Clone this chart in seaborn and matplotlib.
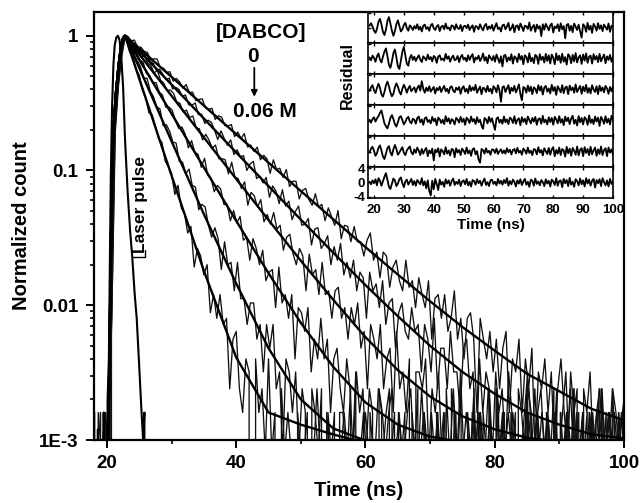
import numpy as np
import matplotlib
matplotlib.use("Agg")
import matplotlib.pyplot as plt
import seaborn as sns

sns.set_theme(style="ticks")
plt.rcParams['font.family'] = ['Liberation Sans', 'DejaVu Sans']
plt.rcParams['font.weight'] = 'bold'
plt.rcParams['axes.labelweight'] = 'bold'
for key in ['text.color', 'axes.labelcolor', 'xtick.color', 'ytick.color', 'axes.edgecolor']:
    plt.rcParams[key] = 'black'

# ---------------- data ----------------
peak_counts = 1250          # counts at the normalised maximum
t_step = 0.5                # channel spacing of the decay traces (ns)
t_start = [18.0, 18.2, 18.1, 18.3, 18.15, 18.25]

counts_A = [1, 0, 2, 0, 1,
            13, 246, 541, 872, 1187,
            1179, 955, 861, 704, 637, 492, 432, 334, 324, 267,
            214, 203, 147, 134, 119, 83, 97, 66, 60, 43,
            48, 24, 33, 29, 21, 25, 11, 15, 10, 15,
            9, 10, 3, 7, 8, 3, 2, 5, 4, 0,
            5, 2, 3, 1, 5, 1, 2, 0, 3, 1,
            2, 1, 0, 2, 1,
            1, 2, 0, 1, 3, 1, 0, 2, 1, 1, 0, 2, 2, 1, 0, 1, 4, 0, 1, 2,
            1, 0, 1, 3, 2, 0, 1, 1, 2, 0, 0, 1, 2, 3, 1, 0, 1, 2, 1, 1,
            0, 2, 1, 0, 3, 1, 1, 2, 0, 1, 1, 0, 2, 1, 2, 0, 1, 3, 1, 0,
            1, 1, 2, 0, 2, 1, 0, 1, 1, 3, 0, 1, 2, 1, 0, 2, 1, 1, 0, 1,
            2, 4, 1, 0, 1, 2, 0, 1, 1, 2, 1, 0, 3, 1, 1, 0, 2, 1, 0, 1, 2, 1]
counts_B = [0, 1, 1, 2, 0,
            11, 257, 522, 893, 1211,
            1172, 1088, 899, 817, 737, 603, 605, 487, 441, 370,
            359, 268, 273, 245, 203, 200, 146, 144, 118, 128,
            97, 94, 64, 70, 67, 49, 40, 47, 39, 23,
            37, 25, 26, 16, 26, 14, 14, 9, 13, 13,
            7, 9, 4, 9, 6, 9, 3, 4, 1, 5,
            4, 2, 4, 1, 3, 2, 0, 3, 2, 1,
            3, 0, 2, 1, 2,
            0, 1, 2, 1, 3, 0, 1, 1, 2, 0, 2, 1, 0, 1, 1, 2, 3, 0, 1, 2,
            1, 0, 0, 2, 1, 1, 3, 1, 0, 2, 1, 2, 0, 1, 1, 0, 2, 1, 4, 1,
            0, 1, 2, 1, 0, 2, 1, 1, 0, 3, 1, 2, 0, 1, 1, 2, 0, 1, 0, 2,
            1, 3, 1, 0, 1, 2, 1, 1, 0, 2, 0, 1, 3, 1, 2, 0, 1, 1, 2, 1,
            0, 2, 1, 0, 1, 3, 1, 2, 0, 1, 1, 2]
counts_C = [2, 0, 1, 1, 0,
            12, 251, 533, 869, 1195,
            1240, 1035, 1017, 934, 823, 795, 659, 635, 561, 561,
            476, 454, 369, 370, 350, 292, 257, 263, 233, 184,
            208, 170, 165, 132, 154, 115, 110, 87, 97, 91,
            70, 70, 53, 63, 51, 57, 38, 40, 27, 39,
            33, 25, 32, 19, 22, 23, 12, 24, 13, 15,
            10, 15, 5, 12, 11, 8, 12, 4, 7, 5,
            10, 5, 7, 2, 5, 6, 3, 2, 5, 3,
            1, 4, 2, 3, 1, 3, 2, 0, 3, 2,
            1, 2, 3, 0, 2,
            1, 2, 0, 1, 1, 3, 0, 2, 1, 1, 0, 2, 1, 2, 0, 1, 3, 1, 0, 1,
            2, 1, 1, 0, 2, 1, 0, 3, 1, 1, 2, 0, 1, 2, 1, 0, 1, 1, 2, 4,
            0, 1, 2, 1, 0, 2, 1, 1, 3, 0, 1, 2, 1, 0, 1, 1, 2, 0, 2, 1,
            1, 0, 3, 1, 2, 1, 0, 1, 2, 1, 0, 2]
counts_D = [1, 1, 0, 2, 1,
            14, 243, 538, 884, 1203,
            1198, 1097, 1079, 990, 862, 891, 786, 753, 662, 690,
            585, 556, 489, 495, 468, 404, 394, 340, 351, 309,
            317, 259, 255, 211, 232, 210, 183, 193, 153, 153,
            150, 118, 144, 111, 109, 92, 103, 69, 86, 81,
            67, 76, 52, 59, 50, 61, 46, 49, 32, 40,
            42, 30, 25, 33, 29, 16, 30, 21, 23, 15,
            26, 15, 16, 10, 16, 17, 10, 12, 7, 12,
            9, 13, 6, 8, 3, 9, 7, 5, 9, 3,
            5, 6, 2, 8, 3, 4, 2, 5, 0, 4,
            4, 3, 5, 1, 3, 2, 4, 1, 2, 0,
            3, 2, 1, 3, 0,
            2, 1, 3, 0, 2, 1, 1, 2, 0, 3, 1, 2, 0, 1, 2, 1, 1, 0, 2, 3,
            1, 0, 1, 2, 1, 1, 0, 2, 1, 0, 1, 2, 1, 3, 0, 1, 1, 2, 0, 1,
            2, 1, 0, 1, 2, 1, 1, 0, 2, 1, 0, 2]
counts_E = [0, 2, 1, 0, 1,
            12, 255, 527, 878, 1199,
            1246, 1101, 1094, 1061, 956, 886, 911, 807, 781, 691,
            705, 647, 591, 606, 504, 517, 499, 443, 454, 384,
            381, 396, 325, 327, 279, 295, 285, 249, 212, 246,
            216, 192, 211, 164, 178, 158, 161, 125, 140, 146,
            109, 113, 101, 111, 79, 96, 88, 71, 90, 68,
            74, 54, 62, 68, 49, 50, 55, 35, 46, 47,
            33, 36, 41, 25, 34, 27, 36, 21, 26, 20,
            27, 16, 22, 20, 10, 22, 16, 18, 12, 19,
            9, 13, 14, 6, 11, 13, 8, 7, 12, 8,
            9, 4, 9, 7, 4, 10, 3, 6, 6, 3,
            8, 4, 4, 2, 6, 7, 3, 4, 1, 5,
            2, 4, 3, 1, 4, 2, 3, 1, 4, 2,
            0, 3, 2, 1, 3, 2, 0, 2, 3, 1,
            2, 1, 3, 0, 2,
            1, 2, 0, 3, 1, 1, 2, 0, 1, 2, 1, 3, 0, 1, 2, 1, 0, 2, 1, 1, 2, 0]
counts_F = [1, 0, 0, 1, 2,
            10, 248, 535, 890, 1206,
            1233, 1146, 1161, 1022, 1030, 957, 941, 829, 842, 840,
            726, 718, 668, 676, 575, 603, 567, 510, 543, 474,
            477, 413, 421, 425, 364, 356, 362, 299, 318, 311,
            269, 268, 274, 223, 241, 216, 235, 187, 193, 173,
            186, 150, 162, 153, 119, 150, 127, 130, 111, 127,
            95, 104, 104, 77, 89, 92, 76, 69, 84, 67,
            70, 53, 66, 57, 49, 63, 39, 49, 48, 37,
            48, 37, 37, 29, 38, 43, 27, 31, 20, 31,
            29, 17, 24, 27, 19, 16, 27, 17, 19, 12,
            20, 15, 12, 19, 7, 14, 15, 10, 15, 8,
            10, 16, 7, 10, 5, 10, 11, 7, 2, 10,
            7, 5, 8, 4, 7, 3, 6, 8, 2, 5,
            4, 7, 2, 5, 3, 6, 1, 4, 3, 5,
            2, 4, 1, 3, 5, 2, 1, 4, 2, 3,
            0, 3, 2, 4, 1, 2, 3, 1, 2, 0,
            3, 2, 1, 2, 3]
decay_counts = [counts_A, counts_B, counts_C, counts_D, counts_E, counts_F]

# fitted curves (normalised count) at these times
fit_t = [18.0, 20.2, 20.5, 20.75, 21.0, 21.4, 21.8, 22.2, 22.5, 22.8,
         23.5, 25, 27.5, 30, 35, 40, 45, 50, 55, 60, 65, 70, 75, 80, 85, 90, 95, 100]
fit_rise = [0.0009, 0.0009, 0.01, 0.08, 0.2, 0.38, 0.6, 0.85, 0.96, 1.0]
fit_A = fit_rise + [0.792, 0.480, 0.209, 0.0916, 0.018, 0.0041, 0.0016, 0.0013, 0.0011,
                    0.00095, 0.0009, 0.0009, 0.0009, 0.0009, 0.0009, 0.0009, 0.0009, 0.0009]
fit_B = fit_rise + [0.839, 0.577, 0.309, 0.165, 0.0474, 0.0145, 0.0048, 0.0020, 0.00122,
                    0.00099, 0.00093, 0.0009, 0.0009, 0.0009, 0.0009, 0.0009, 0.0009, 0.0009]
fit_C = fit_rise + [0.878, 0.665, 0.419, 0.264, 0.1053, 0.0423, 0.0173, 0.0074, 0.0035,
                    0.0019, 0.0013, 0.00106, 0.00096, 0.00093, 0.0009, 0.0009, 0.0009, 0.0009]
fit_D = fit_rise + [0.905, 0.730, 0.511, 0.358, 0.176, 0.0866, 0.0429, 0.0214, 0.0110,
                    0.0058, 0.0033, 0.0021, 0.0015, 0.0012, 0.00104, 0.00097, 0.00093, 0.00092]
fit_E = fit_rise + [0.922, 0.774, 0.579, 0.434, 0.243, 0.136, 0.0766, 0.0432, 0.0246,
                    0.0141, 0.0083, 0.0050, 0.0032, 0.0022, 0.0016, 0.0013, 0.0011, 0.00103]
fit_F = fit_rise + [0.934, 0.806, 0.631, 0.495, 0.303, 0.186, 0.1144, 0.0704, 0.0435,
                    0.0270, 0.0169, 0.0107, 0.0069, 0.0046, 0.0031, 0.0023, 0.0017, 0.0014]
fits = [fit_A, fit_B, fit_C, fit_D, fit_E, fit_F]

# instrument response (laser pulse)
laser_t = [18.0, 18.3, 18.6, 18.9, 19.2, 19.5, 19.8, 20.1, 20.3, 20.45, 20.6, 20.8, 21.0,
           21.2, 21.45, 21.7, 21.95, 22.2, 22.5, 22.8, 23.2, 23.6, 23.9, 24.3, 24.6, 25.0,
           25.3, 25.6, 25.8, 26.0, 26.3]
laser_v = [0.0016, 0, 0.0012, 0, 0, 0.0016, 0, 0.002, 0.004, 0.02, 0.09, 0.3, 0.6,
           0.85, 0.97, 1.0, 0.93, 0.72, 0.42, 0.17, 0.07, 0.035, 0.0235, 0.012, 0.0081, 0.0035,
           0.0018, 0.001, 0.0016, 0, 0]

# weighted residuals (inset), 0.5 ns spacing from 18.5 ns
res_start = 18.5
res_1 = [0.5, 1.2, 0.3, -0.8, -1.5, -0.4, 1.6, 2.4, 0.8, -1.2, -2.1, -0.6, 1.8, 2.9, 1.1, -0.9, -2.3, -1.0, 0.9, 2.0,
         0.4, -1.1, -0.5, 0.7, 1.3, -0.2, -0.9, 0.6, 0.1, -0.7,
         0.4, -0.3, 0.9, -0.6, 0.2, -1.1, 0.5, 0.8, -0.4, 0.1, -0.9, 0.6, 1.0, -0.2, -0.7, 0.3, 0.7, -1.0, 0.2, 0.5,
         -0.5, 1.1, -0.3, 0.0, -0.8, 0.6, 0.4, -0.6, 0.9, -0.2,
         -0.4, 0.7, -1.0, 0.3, 0.5, -0.2, 0.8, -0.7, 0.1, 0.6, -1.2, 0.4, 0.2, -0.5, 0.9, -0.1, -0.8, 0.5, 1.0, -0.6,
         0.3, -0.3, 0.7, -0.9, 0.2, 1.2, -0.4, 0.0, -1.1, 0.6,
         0.8, -0.5, 0.3, 1.3, -0.8, -0.2, 0.9, -1.3, 0.4, 0.6, -0.7, 1.1, 0.2, -1.0, 0.5, 0.3, -0.4, 1.4, -0.9, 0.1,
         0.7, -1.2, 0.8, -0.3, 0.4, -2.4, 0.9, -0.6, 1.0, 0.2,
         -0.8, 0.6, 1.1, -1.4, 0.3, -0.2, 0.9, -1.0, 1.2, -0.5, 0.4, -3.0, 0.7, 1.0, -0.9, 0.5, -1.3, 1.1, 0.2, -0.7,
         0.8, -1.1, -2.8, 0.9, 0.4, -1.2, 1.3, -0.6, 0.5, -1.5, 1.0, 0.3, -0.9, 1.2, -0.4, 0.6, -1.0, 0.8, 0.1, -0.6,
         1.1, -1.2, 0.5, 0.3]
res_2 = [0.3, -0.5, 0.8, 0.2, -0.9, 0.6, 1.4, -0.3, -1.1, 0.5, 1.9, 2.8, 0.7, -1.8, -2.6, -0.8, 1.5, 2.5, 0.3, -2.2,
         -2.9, -0.6, 1.9, 3.2, 0.9, -1.5, -2.0, 0.2, 1.0, -0.4,
         0.5, -0.7, 0.2, 0.9, -0.3, -1.0, 0.6, 0.1, -0.5, 1.1, -0.2, 0.4, -0.8, 0.7, 0.3, -1.2, 0.5, 0.9, -0.4, 0.0,
         -0.6, 1.3, -0.1, 0.6, -0.9, 0.2, 0.8, -0.5, -0.2, 0.7,
         -1.0, 0.4, 1.0, -0.3, 0.2, -0.8, 0.9, -0.4, 0.6, 1.2, -1.1, 0.3, -0.2, 0.8, -0.7, 0.1, 1.4, -0.6, 0.4, -1.3,
         0.9, 0.2, -0.5, 0.7, -0.9, 1.1, 0.0, -1.2, 0.6, -2.2,
         0.8, 1.0, -0.9, 0.3, -0.5, 1.2, -1.4, 0.6, 0.2, -1.0, 1.3, -0.3, 0.7, -1.6, 0.9, 0.4, -1.1, 1.5, -0.8, 0.2,
         -1.3, 1.0, 0.6, -1.5, 1.2, -0.4, 0.5, -1.1, 1.3, -0.7,
         0.9, -1.4, 1.1, 0.2, -1.6, 1.4, -0.5, 0.8, -1.2, 1.3, -0.9, 0.4, -1.7, 1.2, 0.6, -1.3, 1.0, -0.8, 1.5, -1.1,
         0.3, 0.9, -1.5, 1.1, -0.6, 1.4, -1.2, 0.5, 0.8, -1.4, 1.2, -0.3, 0.7, -1.0, 1.3, -0.8, 0.2, 1.1, -1.3, 0.6,
         -0.4, 1.0, -0.9, 0.5]
res_3 = [-0.4, 0.6, 1.2, -0.2, -1.0, 0.4, 1.6, 0.5, -1.3, -2.0, -0.7, 1.1, 2.2, 0.9, -0.8, -1.9, -1.2, 0.6, 1.7, 0.8,
         -0.6, -1.4, 0.2, 1.3, 0.4, -0.9, 0.3, 1.0, -0.5, 0.1,
         0.6, -0.8, 0.4, 1.1, -0.3, 2.3, 0.2, -0.9, 0.5, -0.4, 0.9, -0.6, 0.1, 0.7, -1.1, 0.4, -0.2, 0.8, -0.7, 0.3,
         1.0, -0.5, 0.2, -1.0, 0.6, 0.9, -0.3, -0.8, 0.5, -0.1,
         0.7, -1.2, 0.4, 0.9, -0.6, 0.2, -1.0, 1.1, -0.4, 0.6, -0.2, 1.3, -0.9, 0.0, 0.8, -1.3, 0.5, 0.3, -0.7, 1.0,
         -0.5, 0.2, -1.1, 0.9, 0.4, -0.8, 1.2, -0.3, -3.4, 0.6,
         0.9, -0.7, 0.3, 1.2, -1.1, 0.5, -0.4, 1.0, -0.8, 0.2, 1.4, -1.2, -3.0, 0.7, 0.4, -0.9, 1.1, -0.5, 0.8, -1.3,
         0.6, 0.2, -1.0, 1.2, -0.3, 0.9, -1.4, 0.5, 1.0, -0.6,
         0.3, -1.1, 1.3, -0.4, 0.7, -1.5, 0.9, 0.1, -0.8, 1.2, -1.0, 0.5, 0.8, -1.3, 1.1, -0.2, 0.6, -0.9, 1.4, -0.7,
         0.2, 1.0, -1.2, 0.8, -0.5, 1.3, -0.9, 0.4, -1.1, 1.2, 0.0, -0.7, 0.9, -1.3, 1.1, -0.4, 0.6, -0.8, 1.0, 0.3,
         -1.2, 0.7, -0.5, 0.9]
res_4 = [0.2, -0.6, 0.4, 0.9, -0.3, 0.6, 1.2, 2.1, 2.8, 1.0, -0.8, -1.6, -2.2, -0.9, 0.7, 1.5, 0.4, -1.0, -1.7, -0.5,
         0.9, 1.2, 0.1, -1.1, -0.4, 0.6, 1.0, -0.3, -0.8, 0.5,
         0.2, -0.9, 0.7, 1.1, -0.5, 0.3, -1.2, 0.6, 0.9, -0.4, 0.1, -0.8, 1.0, -0.2, 0.5, -1.3, 0.8, 0.4, -0.7, 0.2,
         -1.0, 1.2, -0.3, 0.6, -0.9, 0.4, 0.0, -1.1, 0.7, 0.3,
         -0.6, 1.0, -0.4, 0.5, -1.2, 0.8, 0.2, -0.7, 1.1, -0.3, 0.4, -1.0, 0.9, -0.5, 0.2, -1.4, -2.3, 0.7, 0.3, -0.8,
         1.0, -0.4, 0.6, -1.1, -2.6, 0.5, 0.9, -0.6, 0.2, -0.9,
         1.1, -0.5, 0.3, -1.0, 0.8, 0.4, -0.7, 1.2, -0.9, 0.2, 0.6, -1.3, 0.9, -0.4, 0.5, -1.0, 1.1, 0.1, -0.8, 0.7,
         -0.3, 1.0, -1.2, 0.4, 0.6, -0.9, 1.3, -0.5, 0.2, -1.1,
         0.9, -0.4, 0.7, -1.2, 1.0, 0.3, -0.8, 1.2, -0.6, 0.4, -1.3, 1.1, -0.2, 0.8, -1.0, 0.5, 1.3, -0.9, 0.2, -1.4,
         1.2, -0.5, 0.7, -1.1, 0.9, 0.4, -1.2, 1.4, -0.7, 0.3, -1.0, 1.1, -0.3, 0.8, -1.5, 1.0, 0.2, -0.9, 1.2, -0.6,
         0.5, -1.1, 1.3, 0.1]
res_5 = [-0.3, 0.8, 1.3, 0.2, -1.2, -0.5, 1.0, 1.7, 0.3, -1.4, -2.1, -0.6, 0.9, 1.5, -0.2, -1.1, 0.6, 1.8, 0.7, -0.9,
         -0.3, 0.5, 1.2, -0.4, -1.0, 0.3, 0.9, 1.4, -0.2, -0.8,
         0.6, -0.4, 1.1, 0.2, -1.0, 0.7, -0.6, 0.4, 1.0, -1.3, 0.3, -0.5, 0.8, -2.5, 0.5, -0.2, 0.9, -1.4, 0.6, 0.1,
         -0.8, 1.2, -0.6, 0.3, -1.1, 0.7, 0.5, -1.6, 0.9, -0.3,
         0.4, -1.0, 0.8, 0.2, -0.7, 1.1, -0.5, 0.3, -1.2, 0.6, 0.9, -0.8, 0.1, -2.2, -3.1, 0.7, 0.4, -0.6, 0.9, -0.3,
         0.2, -0.9, 0.6, 0.5, -0.4, 0.8, -0.7, 0.1, 0.6, -0.5,
         0.3, -0.6, 0.9, -0.2, 0.5, -0.8, 0.4, 0.7, -0.5, 1.0, -0.3, 0.2, -0.9, 0.8, 0.3, -0.6, 1.1, -0.4, 0.2, -1.0,
         0.7, 0.5, -0.8, 1.2, -0.3, 0.4, -1.1, 0.9, 0.1, -0.7,
         1.0, -0.9, 0.6, 1.2, -1.3, 0.4, -0.6, 1.1, -1.0, 0.7, 0.3, -1.4, 1.3, -0.5, 0.8, -1.2, 1.0, 0.2, -0.9, 1.4,
         -1.1, 0.5, 0.9, -1.3, 1.2, -0.4, 0.7, -1.0, 1.3, -0.8, 0.3, 1.1, -1.2, 0.6, -0.7, 1.4, -1.0, 0.4, 0.9, -1.3,
         1.1, -0.3, 0.6, -0.9]
res_6 = [0.2, -0.5, 0.6, -0.2, 0.9, -0.8, 1.2, 0.5, -0.9, 0.4, 1.6, 2.6, 0.8, -1.2, -1.8, -0.4, 1.1, 0.6, -1.0, -0.3,
         0.9, 1.4, -0.2, -1.3, 0.3, 0.8, -0.6, 0.2, 1.0, -0.7,
         0.4, -0.9, 0.7, 0.1, -0.5, 1.2, -0.8, 0.3, -1.6, 0.6, -2.4, -3.6, 0.5, -1.9, 1.0, -0.4, -2.1, 0.8, -0.6, 0.2,
         -1.2, 0.9, -0.3, 0.6, -0.9, 0.4, 1.1, -0.7, 0.2, -0.4,
         0.8, -1.0, 0.3, 0.6, -0.5, 1.0, -0.8, 0.2, -1.1, 0.7, 0.4, -0.6, 0.9, -0.2, 0.5, -0.9, 0.3, 1.1, -0.7, 0.1,
         -1.0, 0.6, 0.8, -0.4, 0.2, -0.8, 1.0, -0.3, 0.5, -0.6,
         0.7, -0.2, 1.2, -0.9, 0.4, -0.5, 0.8, 0.2, -1.1, 0.6, -0.3, 0.9, -0.7, 0.3, 1.0, -0.6, 0.2, -1.2, 0.8, 0.5,
         -0.9, 1.1, -0.4, 0.3, -0.8, 0.7, 0.1, -1.0, 0.9, -0.3,
         0.5, -1.1, 0.8, 0.3, -0.7, 1.2, -0.9, 0.4, 0.6, -1.3, 1.0, -0.2, 0.7, -1.0, 1.3, -0.6, 0.2, -1.2, 0.9, 0.4,
         -0.8, 1.1, -0.5, 0.6, -1.1, 1.2, -0.3, 0.8, -0.9, 0.5, 1.0, -1.4, 0.7, -0.2, 0.9, -1.0, 1.2, 0.1, -0.8, 0.6,
         -1.1, 1.0, -0.4, 0.3]
residuals = [res_1, res_2, res_3, res_4, res_5, res_6]

main_yticks = [1e-3, 1e-2, 1e-1, 1]
main_yticklabels = ['1E-3', '0.01', '0.1', '1']
main_xticks = [20, 40, 60, 80, 100]
inset_xticks = [20, 30, 40, 50, 60, 70, 80, 90, 100]
inset_yticks = [-4, 0, 4]

# ---------------- figure ----------------
W, H = 643, 503
fig = plt.figure(figsize=(W / 100, H / 100), dpi=100)
fig.patch.set_facecolor('white')


def px_axes(x0, y0, x1, y1):
    return [x0 / W, 1 - y1 / H, (x1 - x0) / W, (y1 - y0) / H]


def draw(ax, x, y, **kw):
    sns.lineplot(x=np.asarray(x, dtype=float), y=np.asarray(y, dtype=float),
                 ax=ax, estimator=None, sort=False, **kw)


ax = fig.add_axes(px_axes(94, 12, 624, 440))
ax.set_facecolor('white')

for i, cnt in enumerate(decay_counts):
    t = t_start[i] + t_step * np.arange(len(cnt))
    draw(ax, t, np.asarray(cnt) / peak_counts, color='#111111', linewidth=0.95, zorder=2)
for f in fits:
    draw(ax, fit_t, f, color='black', linewidth=1.7, zorder=3)
draw(ax, laser_t, laser_v, color='black', linewidth=1.5, zorder=3)

ax.set_yscale('log')
ax.set_xlim(18, 100)
ax.set_ylim(1e-3, 1.5)
ax.set_xticks(main_xticks)
ax.set_xticks([30, 50, 70, 90], minor=True)
ax.set_yticks(main_yticks)
ax.set_yticklabels(main_yticklabels)
ax.tick_params(axis='both', which='major', direction='out', length=6, width=1.4,
               labelsize=13.5, pad=5, top=False, right=False, colors='black')
ax.tick_params(axis='both', which='minor', direction='out', length=3.2, width=1.2,
               top=False, right=False, colors='black')
for lab in ax.get_xticklabels() + ax.get_yticklabels():
    lab.set_fontweight('bold')
for s in ax.spines.values():
    s.set_linewidth(1.6)
    s.set_color('black')
ax.set_xlabel('Time (ns)', fontsize=14.5, fontweight='bold', labelpad=6, color='black')
ax.set_ylabel('Normalized count', fontsize=14.5, fontweight='bold', labelpad=6, color='black')

ax.text(43.9, 1.05, '[DABCO]', ha='center', va='center', fontsize=15, fontweight='bold')
ax.text(42.6, 0.70, '0', ha='center', va='center', fontsize=15, fontweight='bold')
ax.annotate('', xy=(42.8, 0.352), xytext=(42.8, 0.578),
            arrowprops=dict(arrowstyle='-|>', color='black', lw=1.3, mutation_scale=9,
                            shrinkA=0, shrinkB=0))
ax.text(44.5, 0.272, '0.06 M', ha='center', va='center', fontsize=15, fontweight='bold')
ax.text(25.2, 0.056, 'Laser pulse', rotation=90, ha='center', va='center',
        fontsize=12.5, fontweight='bold')
draw(ax, [23.9, 25.9, 25.9], [0.0227, 0.0227, 0.0255], color='black', linewidth=1.0, zorder=3)

# ---------------- inset: residuals ----------------
ins_left, ins_right, ins_top, ins_bottom = 368, 613, 12, 198
n = len(residuals)
ph = (ins_bottom - ins_top) / n
for k, r in enumerate(residuals):
    y0 = ins_top + k * ph
    a = fig.add_axes(px_axes(ins_left, y0, ins_right, y0 + ph))
    a.set_facecolor('white')
    a.set_zorder(5)
    tr = res_start + t_step * np.arange(len(r))
    draw(a, tr, r, color='black', linewidth=1.3)
    a.set_xlim(18, 100)
    a.set_ylim(-4.3, 4.3)
    a.set_xticks(inset_xticks)
    a.set_yticks(inset_yticks)
    a.tick_params(axis='both', which='major', direction='in', length=2.5, width=1.0,
                  top=True, right=False, labelsize=9.5, pad=2, colors='black')
    a.tick_params(axis='x', which='major', pad=4)
    for s in a.spines.values():
        s.set_linewidth(1.2)
        s.set_color('black')
    if k < n - 1:
        a.set_xticklabels([])
        a.set_yticklabels([])
    else:
        a.set_xticklabels([str(v) for v in inset_xticks])
        a.set_yticklabels([str(v) for v in inset_yticks])
        for lab in a.get_xticklabels() + a.get_yticklabels():
            lab.set_fontweight('bold')
        a.set_xlabel('Time (ns)', fontsize=11, fontweight='bold', labelpad=2, color='black')
    a.set_ylabel('')

fig.text(347 / W, 1 - 76 / H, 'Residual', rotation=90, ha='center', va='center',
         fontsize=11.5, fontweight='bold', color='black')

fig.savefig('out.png', dpi=100, facecolor='white')
